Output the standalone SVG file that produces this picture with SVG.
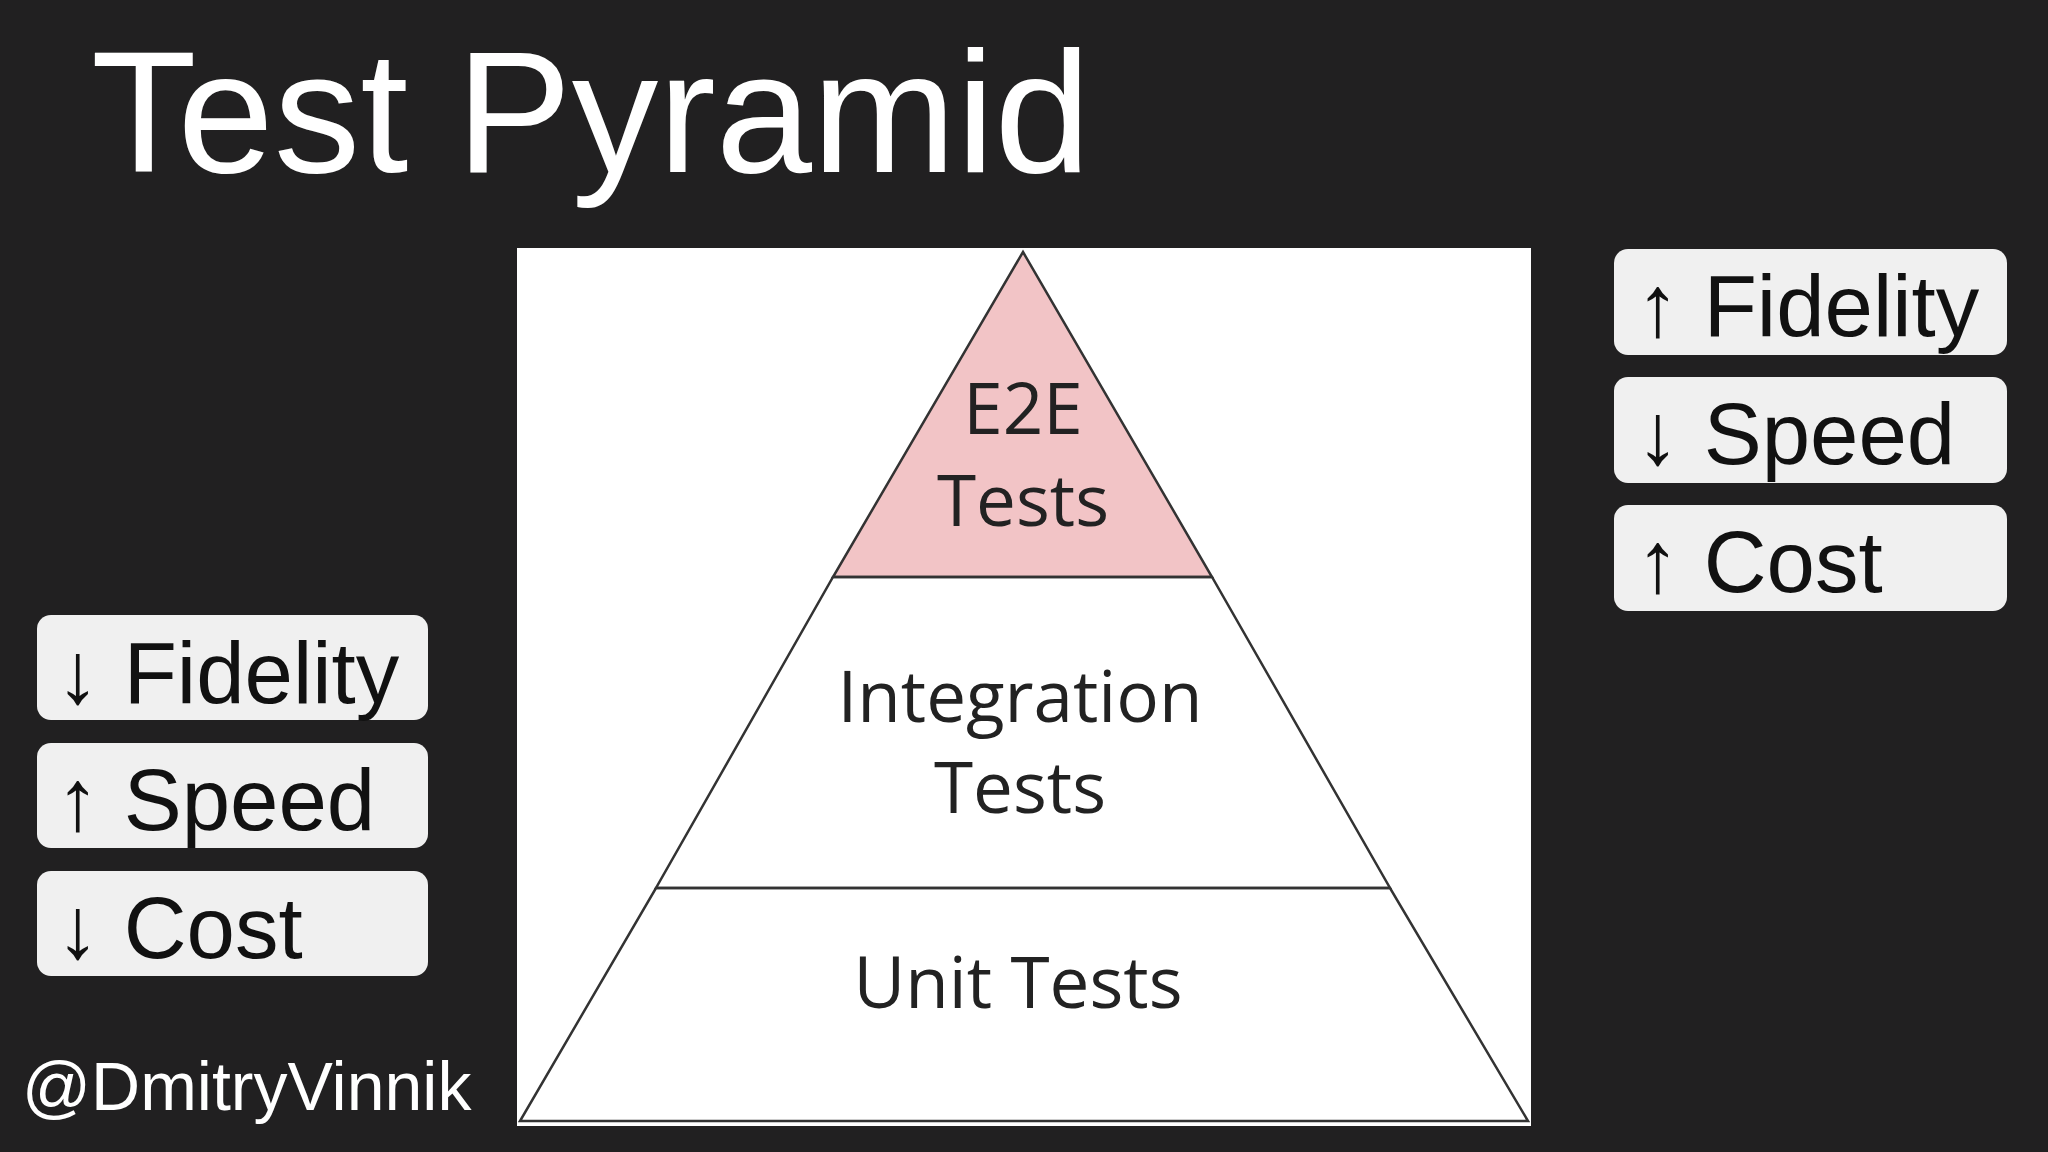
<svg xmlns="http://www.w3.org/2000/svg" width="2048" height="1152" viewBox="0 0 2048 1152">
<style>
.lbl{font-family:"Liberation Sans",Arial,sans-serif;font-size:87px;fill:#111}
.box{fill:#f0f0f0;rx:14px}
.pt{font-family:"Open Sans","Liberation Sans",sans-serif;font-size:71px;fill:#222;text-anchor:middle}
.edge{stroke:#333;stroke-width:2.5}
</style>
<rect width="2048" height="1152" fill="#212021"/>
<text x="91" y="172" font-family="Liberation Sans,Arial,sans-serif" font-size="173" fill="#fff">Test Pyramid</text>
<rect x="517" y="248" width="1014" height="878" fill="#fff"/>
<g id="e2e"><polygon points="1023,252 1212,577 833,577" fill="#f2c4c6" class="edge"/>
<text class="pt" x="1023" y="434">E2E</text><text class="pt" x="1023" y="526">Tests</text></g>
<g id="integration"><polygon points="833,577 1212,577 1390,888 656,888" fill="none" class="edge"/>
<text class="pt" x="1020" y="722">Integration</text><text class="pt" x="1020" y="813">Tests</text></g>
<g id="unit"><polygon points="656,888 1390,888 1528,1121 520,1121" fill="none" class="edge"/>
<text class="pt" x="1018" y="1008">Unit Tests</text></g>
<g id="connectors"/>
<g id="right">
<rect class="box" x="1614" y="249" width="393" height="106"/><text class="lbl" x="1636" y="336">↑ Fidelity</text>
<rect class="box" x="1614" y="377" width="393" height="106"/><text class="lbl" x="1636" y="464">↓ Speed</text>
<rect class="box" x="1614" y="505" width="393" height="106"/><text class="lbl" x="1636" y="592">↑ Cost</text>
</g>
<g id="left">
<rect class="box" x="37" y="615" width="391" height="105"/><text class="lbl" x="56" y="703">↓ Fidelity</text>
<rect class="box" x="37" y="743" width="391" height="105"/><text class="lbl" x="56" y="830">↑ Speed</text>
<rect class="box" x="37" y="871" width="391" height="105"/><text class="lbl" x="56" y="958">↓ Cost</text>
</g>
<text x="22" y="1110" font-family="Liberation Sans,Arial,sans-serif" font-size="68" fill="#fff">@DmitryVinnik</text>
</svg>
